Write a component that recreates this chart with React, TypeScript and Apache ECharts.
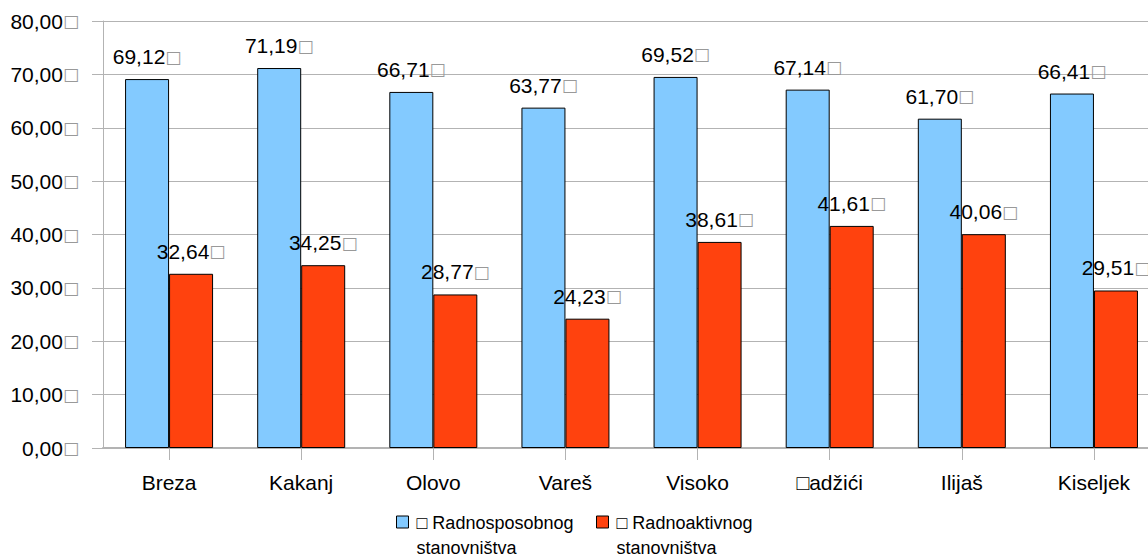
import React, { useEffect, useRef } from "react";
import * as echarts from "echarts";

const BOX = "\u25A1";
const categories = ["Breza", "Kakanj", "Olovo", "Vareš", "Visoko", BOX + "adžići", "Ilijaš", "Kiseljek"];
const workingAge = [69.12, 71.19, 66.71, 63.77, 69.52, 67.14, 61.7, 66.41];
const active = [32.64, 34.25, 28.77, 24.23, 38.61, 41.61, 40.06, 29.51];
const seriesNames = [BOX + " Radnosposobnog\nstanovništva", BOX + " Radnoaktivnog\nstanovništva"];
const colors = ["#83caff", "#ff420e"];
const yTicks = [0, 10, 20, 30, 40, 50, 60, 70, 80];

const num = (v: number) => v.toFixed(2).replace(".", ",");
const FONT = "'Liberation Sans', Arial, sans-serif";
const rich = {
  b: { color: "#999", fontSize: 17, fontFamily: "'DejaVu Sans', sans-serif" },
};

export default function App() {
  const ref = useRef<HTMLDivElement>(null);
  useEffect(() => {
    if (!ref.current) return;
    const chart = echarts.init(ref.current, undefined, { renderer: "svg" });
    const mkSeries = (name: string, data: number[], color: string) => ({
      name,
      type: "bar",
      data,
      barWidth: 44,
      barGap: "0%",
      itemStyle: { color, borderColor: "#000", borderWidth: 1 },
      label: {
        show: true,
        position: "top",
        distance: 12,
        color: "#000",
        fontFamily: FONT,
        fontSize: 21,
        formatter: (p: any) => num(p.value) + "{b|" + BOX + "}",
        rich,
      },
    });
    chart.setOption({
      animation: false,
      backgroundColor: "#fff",
      textStyle: { fontFamily: FONT },
      grid: { left: 103, top: 21, right: 0, bottom: 107, containLabel: false },
      xAxis: {
        type: "category",
        data: categories,
        axisLine: { show: true, lineStyle: { color: "#b3b3b3", width: 2 } },
        axisTick: { show: true, alignWithLabel: true, length: 12, lineStyle: { color: "#b3b3b3" } },
        axisLabel: { color: "#000", fontSize: 21, fontFamily: FONT, margin: 24 },
      },
      yAxis: {
        type: "value",
        min: yTicks[0],
        max: yTicks[yTicks.length - 1],
        interval: 10,
        axisLine: { show: true, lineStyle: { color: "#b3b3b3" } },
        axisTick: { show: true, length: 11, lineStyle: { color: "#b3b3b3" } },
        splitLine: { show: true, lineStyle: { color: "#b3b3b3" } },
        axisLabel: {
          color: "#000",
          fontSize: 21,
          fontFamily: FONT,
          margin: 24,
          formatter: (v: number) => num(v) + "{b|" + BOX + "}",
          rich,
        },
      },
      series: [
        mkSeries(seriesNames[0], workingAge, colors[0]),
        mkSeries(seriesNames[1], active, colors[1]),
      ],
      graphic: [0, 1].map((i) => ({
        type: "group",
        left: 396 + i * 200,
        top: 510,
        children: [
          {
            type: "rect",
            shape: { x: 0, y: 6, width: 12, height: 12 },
            style: { fill: colors[i], stroke: "#000", lineWidth: 1 },
          },
          {
            type: "text",
            x: 20,
            y: 0,
            style: {
              text: seriesNames[i],
              fill: "#000",
              font: "18px " + FONT,
              lineHeight: 25,
              textVerticalAlign: "top",
            },
          },
        ],
      })),
    });
    return () => chart.dispose();
  }, []);
  return (
    <div style={{ position: "fixed", left: 0, top: 0, width: 1148, height: 555, overflow: "hidden", background: "#fff" }}>
      <div ref={ref} style={{ position: "absolute", left: 0, top: 0, width: 1160, height: 555 }} />
    </div>
  );
}
